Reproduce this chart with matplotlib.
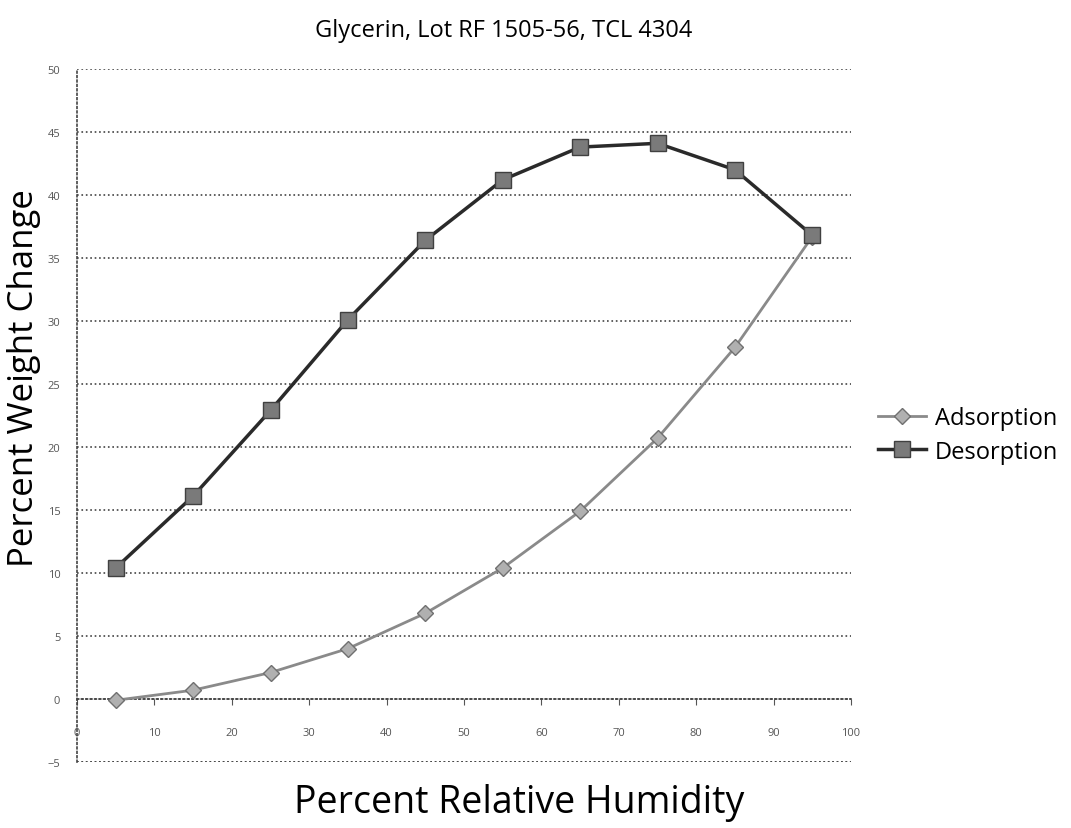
import numpy as np
import matplotlib
matplotlib.use('Agg')
import matplotlib.pyplot as plt

plt.rcParams['font.family'] = ['Open Sans', 'DejaVu Sans']

# Data
rh = [5, 15, 25, 35, 45, 55, 65, 75, 85, 95]
adsorption = [-0.1, 0.7, 2.1, 4.0, 6.8, 10.4, 14.9, 20.7, 27.9, 36.7]
desorption = [10.4, 16.1, 22.9, 30.1, 36.4, 41.2, 43.8, 44.1, 42.0, 36.8]
x_ticks = [0, 10, 20, 30, 40, 50, 60, 70, 80, 90, 100]
y_ticks = [-5, 0, 5, 10, 15, 20, 25, 30, 35, 40, 45, 50]

fig = plt.figure(figsize=(10.71, 8.29), dpi=100)
ax = fig.add_axes([0.0719, 0.0796, 0.7227, 0.836])

ax.plot(rh, adsorption, color='#8a8a8a', lw=2, marker='D', ms=8,
        mfc='#b0b0b0', mec='#707070', label='Adsorption', zorder=3)
ax.plot(rh, desorption, color='#2a2a2a', lw=2.5, marker='s', ms=11,
        mfc='#7a7a7a', mec='#404040', label='Desorption', zorder=4)

ax.set_xlim(0, 100)
ax.set_ylim(-5, 50)
ax.set_xticks(x_ticks)
ax.set_yticks(y_ticks)
ax.tick_params(axis='both', labelsize=8, colors='#555555')
ax.tick_params(axis='y', length=0, pad=12)
ax.tick_params(axis='x', direction='out', length=4, pad=16)

ax.yaxis.grid(True, linestyle=':', color='#444444', lw=1.2)
ax.set_axisbelow(True)

ax.spines['bottom'].set_position(('data', 0))
for side in ['bottom', 'left']:
    ax.spines[side].set_linestyle(':')
    ax.spines[side].set_color('#444444')
    ax.spines[side].set_linewidth(1.2)
ax.spines['top'].set_visible(False)
ax.spines['right'].set_visible(False)
ax.axhline(-5, linestyle=':', color='#444444', lw=1.2)

fig.text(0.47, 0.963, 'Glycerin, Lot RF 1505-56, TCL 4304', fontsize=17,
         ha='center', va='center')
fig.text(0.022, 0.544, 'Percent Weight Change', fontsize=25, rotation=90,
         ha='center', va='center')
fig.text(0.485, 0.031, 'Percent Relative Humidity', fontsize=27,
         ha='center', va='center')

ax.legend(loc='center left', bbox_to_anchor=(1.008, 0.472), frameon=False,
          fontsize=17, handlelength=2.0, handletextpad=0.4, labelspacing=0.4)

fig.savefig('out.png', dpi=100)
